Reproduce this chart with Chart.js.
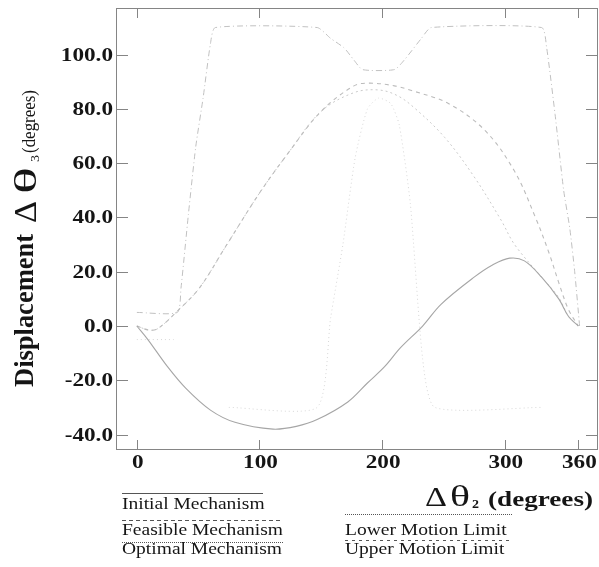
<!DOCTYPE html>
<html lang="en">
<head>
    <meta charset="UTF-8">
    <title>Displacement chart</title>
    <script src="https://cdn.jsdelivr.net/npm/chart.js@4.4.0/dist/chart.umd.min.js"></script>
    <style>
        body {
            margin: 0;
            background-color: #ffffff;
        }
        .wrap {
            width: 599px;
            height: 567px;
        }
    </style>
</head>
<body>
    <div class="wrap">
        <canvas id="chart" width="599" height="567"></canvas>
    </div>

    <script>
        // tick labels
        const xTickValues = [0, 100, 200, 300, 360];
        const yTickValues = [-40, -20, 0, 20, 40, 60, 80, 100];

        // series values, [crank angle, displacement]
        const initialMechanism = [[0, 0], [9, -5], [25, -15], [40, -23], [60, -31], [80, -35.5], [111, -38],
            [130, -37], [147, -34.5], [172, -28], [188, -21], [202, -15], [215, -8], [233, 0], [248, 8],
            [275, 18], [290, 22.5], [304, 25], [316, 24], [330, 18], [344, 10], [352, 3.5], [360, 0]];
        const feasibleMechanism = [[0, 0], [10, -1.5], [17, -1], [33, 5.5], [51, 14], [72, 29], [100, 49],
            [123, 63.5], [150, 79], [177, 88.5], [190, 89.5], [210, 88.5], [224, 86.8], [254, 82], [284, 72],
            [308, 57], [325, 40], [336, 27], [344, 16], [352, 6], [360, 0]];
        const optimalMechanism = [[0, 0], [10, -1.5], [17, -1], [33, 5.5], [51, 14], [72, 29], [100, 49],
            [123, 63.5], [150, 79], [177, 86], [197, 87], [212, 85], [226, 80.5], [251, 69.5], [275, 55],
            [297, 39], [308, 30], [330, 18], [344, 10.5], [352, 3.5], [360, 0]];
        const lowerMotionLimit = [[0, -5], [30, -5], [52, null], [75, -30], [147, -30], [158, 3], [168, 30],
            [178, 62], [188, 80], [197, 84], [207, 82], [214, 74], [223, 45], [233, -12], [243, -30], [330, -30]];
        const upperMotionLimit = [[0, 5], [33, 5], [36, 14], [42, 41], [48, 66], [54, 84], [60, 104], [64, 110],
            [147, 110], [158, 106], [169, 102.5], [177, 98], [184, 94.5], [210, 94.5], [218, 98], [232, 106],
            [240, 110], [330, 110], [334, 103], [341, 78], [348, 50], [353, 36], [357, 20], [361, 0]];

        const serif = '"Liberation Serif", "Times New Roman", serif';
        const stretch = 1.22; // the scanned figure is wider than it is tall

        function toPoints(list) {
            return list.map(p => ({ x: p[0], y: p[1] }));
        }

        // draw text widened horizontally
        function wideText(ctx, str, x, y, font, align) {
            ctx.save();
            ctx.font = font;
            const w = ctx.measureText(str).width * stretch;
            let x0 = x;
            if (align === 'right') x0 = x - w;
            if (align === 'center') x0 = x - w / 2;
            ctx.translate(x0, y);
            ctx.scale(stretch, 1);
            ctx.textAlign = 'left';
            ctx.textBaseline = 'alphabetic';
            ctx.fillText(str, 0, 0);
            ctx.restore();
            return w;
        }

        // text squeezed or widened to a given width
        function fitText(ctx, str, x, y, font, width) {
            ctx.save();
            ctx.font = font;
            const w = ctx.measureText(str).width;
            ctx.translate(x, y);
            ctx.scale(width / w, 1);
            ctx.textAlign = 'left';
            ctx.textBaseline = 'alphabetic';
            ctx.fillText(str, 0, 0);
            ctx.restore();
        }

        // rotated text, reading bottom to top from yStart, baseline on x, given length
        function upText(ctx, str, x, yStart, font, length, cross) {
            ctx.save();
            ctx.font = font;
            const w = ctx.measureText(str).width;
            ctx.translate(x, yStart);
            ctx.rotate(-Math.PI / 2);
            ctx.scale(length / w, cross);
            ctx.textAlign = 'left';
            ctx.textBaseline = 'alphabetic';
            ctx.fillText(str, 0, 0);
            ctx.restore();
        }

        function legendLine(ctx, x1, x2, y, dash) {
            ctx.save();
            ctx.strokeStyle = '#555';
            ctx.lineWidth = 1;
            ctx.setLineDash(dash);
            ctx.beginPath();
            ctx.moveTo(x1, y + 0.5);
            ctx.lineTo(x2, y + 0.5);
            ctx.stroke();
            ctx.restore();
        }

        const framePlugin = {
            id: 'framePlugin',
            afterDraw(chart) {
                const ctx = chart.ctx;
                const area = chart.chartArea;
                const xs = chart.scales.x;
                const ys = chart.scales.y;

                // frame and inward ticks
                ctx.save();
                ctx.strokeStyle = '#858585';
                ctx.lineWidth = 1;
                ctx.strokeRect(area.left + 0.5, area.top + 0.5, area.right - area.left - 1, area.bottom - area.top - 1);
                ctx.beginPath();
                yTickValues.forEach(v => {
                    const py = Math.round(ys.getPixelForValue(v)) + 0.5;
                    ctx.moveTo(area.left, py); ctx.lineTo(area.left + 12, py);
                    ctx.moveTo(area.right, py); ctx.lineTo(area.right - 12, py);
                });
                xTickValues.forEach(v => {
                    const px = Math.round(xs.getPixelForValue(v)) + 0.5;
                    ctx.moveTo(px, area.bottom); ctx.lineTo(px, area.bottom - 10);
                    ctx.moveTo(px, area.top); ctx.lineTo(px, area.top + 10);
                });
                ctx.stroke();
                ctx.restore();

                ctx.save();
                ctx.fillStyle = '#151515';

                // tick labels
                yTickValues.forEach(v => {
                    const py = ys.getPixelForValue(v);
                    wideText(ctx, v.toFixed(1), area.left - 3, py + 6, 'bold 19px ' + serif, 'right');
                });
                xTickValues.forEach(v => {
                    const px = xs.getPixelForValue(v);
                    wideText(ctx, String(v), px + 1, 468, 'bold 19px ' + serif, 'center');
                });

                // y axis title
                upText(ctx, 'Displacement', 33, 387, 'bold 24px ' + serif, 153, 1.12);
                upText(ctx, '\u0394', 36, 223, '30px ' + serif, 22, 1.05);
                upText(ctx, '\u03b8', 36, 194, '31px ' + serif, 27, 1.05);
                upText(ctx, '3', 39, 162, '12px ' + serif, 7, 1);
                upText(ctx, '(degrees)', 35, 153, '17px ' + serif, 63, 1.1);

                // x axis title
                fitText(ctx, '\u0394', 425, 506, '27px ' + serif, 22);
                fitText(ctx, '\u03b8', 450, 506, '30px ' + serif, 20);
                fitText(ctx, '2', 472, 508, 'bold 12px ' + serif, 7);
                fitText(ctx, '(degrees)', 488, 506, 'bold 21px ' + serif, 105);

                // legend
                legendLine(ctx, 122, 263, 493, []);
                wideText(ctx, 'Initial Mechanism', 122, 509, '16px ' + serif, 'left');
                legendLine(ctx, 122, 282, 520, [4, 3]);
                wideText(ctx, 'Feasible Mechanism', 122, 535, '16px ' + serif, 'left');
                legendLine(ctx, 122, 283, 542, [1, 1]);
                wideText(ctx, 'Optimal Mechanism', 122, 554, '16px ' + serif, 'left');

                legendLine(ctx, 345, 512, 514, [1, 1]);
                wideText(ctx, 'Lower Motion Limit', 345, 535, '16px ' + serif, 'left');
                legendLine(ctx, 345, 512, 540, [3, 4]);
                wideText(ctx, 'Upper Motion Limit', 345, 554, '16px ' + serif, 'left');
                ctx.restore();
            }
        };

        const ctx = document.getElementById('chart').getContext('2d');
        new Chart(ctx, {
            type: 'line',
            data: {
                datasets: [
                    {
                        label: 'Initial Mechanism',
                        data: toPoints(initialMechanism),
                        borderColor: '#a6a6a6',
                        borderWidth: 1.1,
                        tension: 0.35
                    },
                    {
                        label: 'Feasible Mechanism',
                        data: toPoints(feasibleMechanism),
                        borderColor: '#bcbcbc',
                        borderWidth: 1.1,
                        borderDash: [4, 4],
                        tension: 0.35
                    },
                    {
                        label: 'Optimal Mechanism',
                        data: toPoints(optimalMechanism),
                        borderColor: '#cacaca',
                        borderWidth: 1,
                        borderDash: [2, 3],
                        tension: 0.35
                    },
                    {
                        label: 'Lower Motion Limit',
                        data: toPoints(lowerMotionLimit),
                        borderColor: '#d6d6d6',
                        borderWidth: 1,
                        borderDash: [1, 3],
                        spanGaps: false,
                        tension: 0.2
                    },
                    {
                        label: 'Upper Motion Limit',
                        data: toPoints(upperMotionLimit),
                        borderColor: '#c0c0c0',
                        borderWidth: 1,
                        borderDash: [6, 3, 1, 3],
                        tension: 0.2
                    }
                ]
            },
            options: {
                responsive: false,
                animation: false,
                layout: {
                    padding: { left: 116, top: 8, right: 1, bottom: 117 }
                },
                elements: {
                    point: { radius: 0 }
                },
                plugins: {
                    legend: { display: false },
                    tooltip: { enabled: false }
                },
                scales: {
                    x: {
                        type: 'linear',
                        min: -17,
                        max: 376,
                        display: false
                    },
                    y: {
                        type: 'linear',
                        min: -45.7,
                        max: 117.2,
                        display: false
                    }
                }
            },
            plugins: [framePlugin]
        });
    </script>
</body>
</html>
